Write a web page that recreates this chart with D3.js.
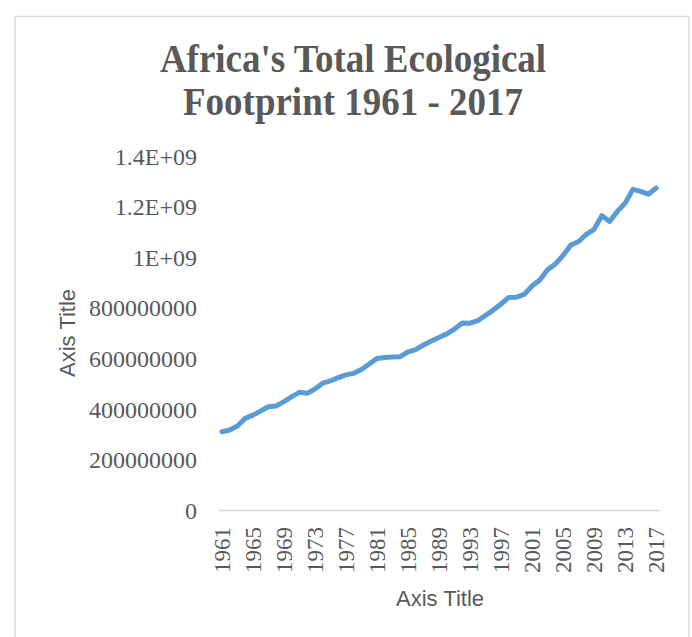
<!DOCTYPE html>
<html>
<head>
<meta charset="utf-8">
<script src="https://cdn.jsdelivr.net/npm/d3@7"></script>
<style>
  html, body { margin: 0; padding: 0; background: #ffffff; }
  svg { display: block; }
</style>
</head>
<body>
<script>
// ---- Data ----
const years = d3.range(1961, 2018);
const footprint = [
  309e6, 316e6, 332e6, 362e6, 375e6, 391e6, 408e6, 411e6, 428e6, 448e6,
  465e6, 461e6, 478e6, 501e6, 510e6, 523e6, 534e6, 540e6, 555e6, 577e6,
  599e6, 603e6, 605e6, 606e6, 625e6, 634e6, 652e6, 668e6, 682e6, 696e6,
  715e6, 739e6, 738e6, 748e6, 769e6, 790e6, 814e6, 840e6, 841e6, 852e6,
  885e6, 909e6, 949e6, 972e6, 1006e6, 1047e6, 1061e6, 1089e6, 1109e6, 1163e6,
  1140e6, 1180e6, 1212e6, 1267e6, 1259e6, 1248e6, 1272e6
];
const yTicks = [0, 200e6, 400e6, 600e6, 800e6, 1000e6, 1200e6, 1400e6];
const yTickLabels = ["0", "200000000", "400000000", "600000000", "800000000", "1E+09", "1.2E+09", "1.4E+09"];
const xTickYears = [1961, 1965, 1969, 1973, 1977, 1981, 1985, 1989, 1993, 1997, 2001, 2005, 2009, 2013, 2017];
const titleLines = ["Africa's Total Ecological", "Footprint 1961 - 2017"];
const xAxisTitle = "Axis Title";
const yAxisTitle = "Axis Title";

// ---- Layout ----
const W = 692, H = 637;
const plot = { left: 218, right: 660, top: 155.7, bottom: 510 };
const textColor = "#595959";
const serif = "'Liberation Serif', 'Times New Roman', serif";
const sans = "'Liberation Sans', Arial, sans-serif";

const svg = d3.select("body").append("svg")
  .attr("width", W).attr("height", H);

// chart frame
svg.append("rect")
  .attr("x", 15).attr("y", 16.5)
  .attr("width", 674).attr("height", 640)
  .attr("fill", "#ffffff")
  .attr("stroke", "#d9d9d9").attr("stroke-width", 1.5);

// scales
const x = d3.scaleBand().domain(years).range([plot.left, plot.right]).padding(0);
const y = d3.scaleLinear().domain([0, 1.4e9]).range([plot.bottom, plot.top]);

// title (slightly tall, like the reference)
const titleScale = 1.1;
const title = svg.append("g")
  .attr("transform", `translate(353,72) scale(1,${titleScale})`)
  .append("text")
  .attr("text-anchor", "middle")
  .attr("font-family", serif)
  .attr("font-weight", "bold")
  .attr("font-size", 37)
  .attr("fill", textColor);
titleLines.forEach((t, i) => {
  title.append("tspan").attr("x", 0).attr("y", i * 43.5 / titleScale).text(t);
});

// y axis (labels only)
const yAxis = d3.axisLeft(y)
  .tickValues(yTicks)
  .tickFormat((d, i) => yTickLabels[i])
  .tickSize(0)
  .tickPadding(0);
const gy = svg.append("g")
  .attr("transform", `translate(197,0)`)
  .call(yAxis);
gy.select(".domain").remove();
gy.selectAll("text")
  .attr("font-family", serif)
  .attr("font-size", 24)
  .attr("fill", textColor)
  .attr("dy", "0.35em");

// x axis
const xAxis = d3.axisBottom(x)
  .tickValues(xTickYears)
  .tickSize(0)
  .tickPadding(0);
const gx = svg.append("g")
  .attr("transform", `translate(0,${plot.bottom})`)
  .call(xAxis);
gx.select(".domain")
  .attr("stroke", "#d9d9d9")
  .attr("stroke-width", 1.5);
gx.selectAll("text")
  .attr("font-family", serif)
  .attr("font-size", 23)
  .attr("fill", textColor)
  .attr("text-anchor", "end")
  .attr("dy", "0.35em")
  .attr("y", 0)
  .attr("transform", "translate(0,17) rotate(-90)");

// line
const line = d3.line()
  .x((d, i) => x(years[i]) + x.bandwidth() / 2)
  .y(d => y(d));
svg.append("path")
  .datum(footprint)
  .attr("d", line)
  .attr("fill", "none")
  .attr("stroke", "#5b9bd5")
  .attr("stroke-width", 5)
  .attr("stroke-linejoin", "round")
  .attr("stroke-linecap", "round");

// axis titles
svg.append("text")
  .attr("x", 440).attr("y", 606)
  .attr("text-anchor", "middle")
  .attr("font-family", sans)
  .attr("font-size", 22)
  .attr("fill", textColor)
  .text(xAxisTitle);

svg.append("text")
  .attr("transform", "translate(75,333) rotate(-90)")
  .attr("text-anchor", "middle")
  .attr("font-family", sans)
  .attr("font-size", 22)
  .attr("fill", textColor)
  .text(yAxisTitle);
</script>
</body>
</html>
